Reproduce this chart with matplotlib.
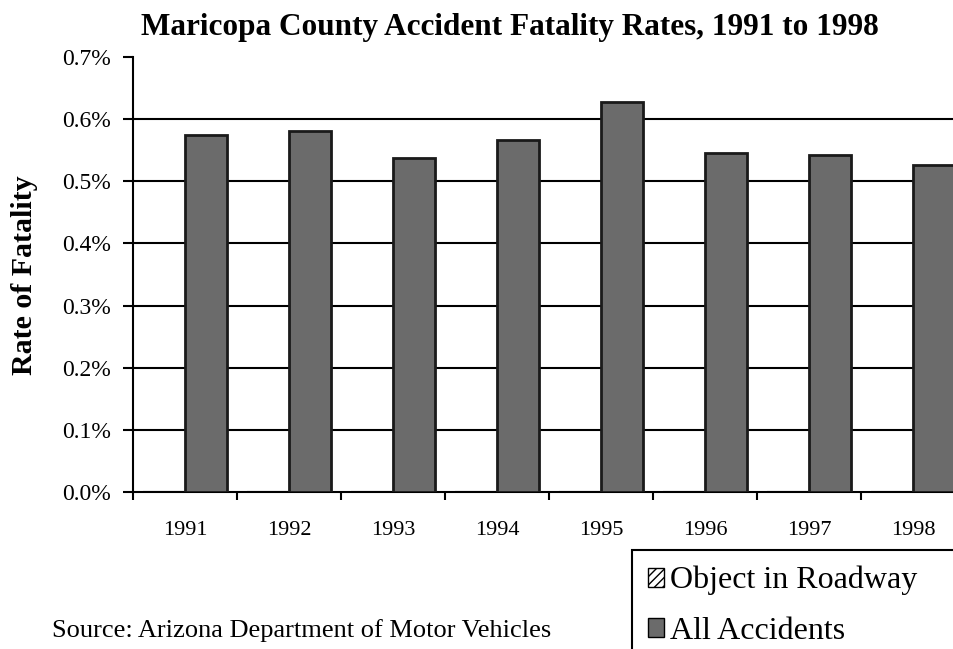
import matplotlib.pyplot as plt
import numpy as np
from matplotlib.patches import Patch

years = ['1991', '1992', '1993', '1994', '1995', '1996', '1997', '1998']
object_in_roadway = [0, 0, 0, 0, 0, 0, 0, 0]
all_accidents = [0.575, 0.581, 0.537, 0.566, 0.627, 0.546, 0.542, 0.526]
y_ticks = [0.0, 0.1, 0.2, 0.3, 0.4, 0.5, 0.6, 0.7]


def main():
    plt.rcParams['font.family'] = ['Liberation Serif', 'DejaVu Serif']
    fig = plt.figure(figsize=(9.54, 6.49), dpi=100)
    # axes runs past the right edge on purpose, like the original
    ax = fig.add_axes([133 / 954, 157 / 649, 832 / 954, 435 / 649])

    x = np.arange(len(years))
    w = 0.404
    ax.bar(x - w / 2, object_in_roadway, width=w, color='white', edgecolor='black',
           hatch='////', linewidth=1.5, zorder=3)
    ax.bar(x + w / 2, all_accidents, width=w, color='#6b6b6b', edgecolor='#1a1a1a',
           linewidth=2, zorder=3)

    ax.set_xlim(-0.5, len(years) - 0.5)
    ax.set_ylim(0, 0.7)
    ax.set_yticks(y_ticks)
    ax.set_yticklabels(['%.1f%%' % v for v in y_ticks], fontsize=17)
    ax.set_xticks(x)
    ax.set_xticklabels(years, fontsize=16)
    ax.set_xticks(np.arange(len(years) + 1) - 0.5, minor=True)
    ax.tick_params(axis='x', which='major', length=0, pad=21)
    ax.tick_params(axis='x', which='minor', length=6, width=1.5, direction='out')
    ax.tick_params(axis='y', length=7, width=1.5, direction='out', pad=9)

    for v in y_ticks[1:-1]:
        ax.axhline(v, color='black', linewidth=1.5, zorder=1)

    for s in ['top', 'right']:
        ax.spines[s].set_visible(False)
    ax.spines['left'].set_linewidth(1.5)
    ax.spines['bottom'].set_linewidth(1.5)

    fig.text(25 / 954, 1 - 275 / 649, 'Rate of Fatality', rotation=90,
             ha='center', va='center', fontsize=21.5, fontweight='bold')
    fig.text(510 / 954, 1 - 28 / 649, 'Maricopa County Accident Fatality Rates, 1991 to 1998',
             ha='center', va='center', fontsize=22.5, fontweight='bold')
    fig.text(52 / 954, 1 - 631 / 649, 'Source: Arizona Department of Motor Vehicles',
             ha='left', va='center', fontsize=19)

    handles = [Patch(facecolor='white', edgecolor='black', hatch='////', label='Object in Roadway'),
               Patch(facecolor='#6b6b6b', edgecolor='black', label='All Accidents')]
    # legend box is cut off by the right and bottom edges in the original
    leg = fig.legend(handles=handles, loc='upper left',
                     bbox_to_anchor=(632 / 954, 1 - 550 / 649, 400 / 954, 0), mode='expand',
                     fontsize=23, frameon=True, fancybox=False, framealpha=1, edgecolor='black',
                     handlelength=0.5, handleheight=0.55, handletextpad=0.2, borderpad=0.5,
                     labelspacing=0.66, borderaxespad=0)
    leg.get_frame().set_linewidth(1.5)

    fig.savefig('out.png', dpi=100)


if __name__ == '__main__':
    main()
